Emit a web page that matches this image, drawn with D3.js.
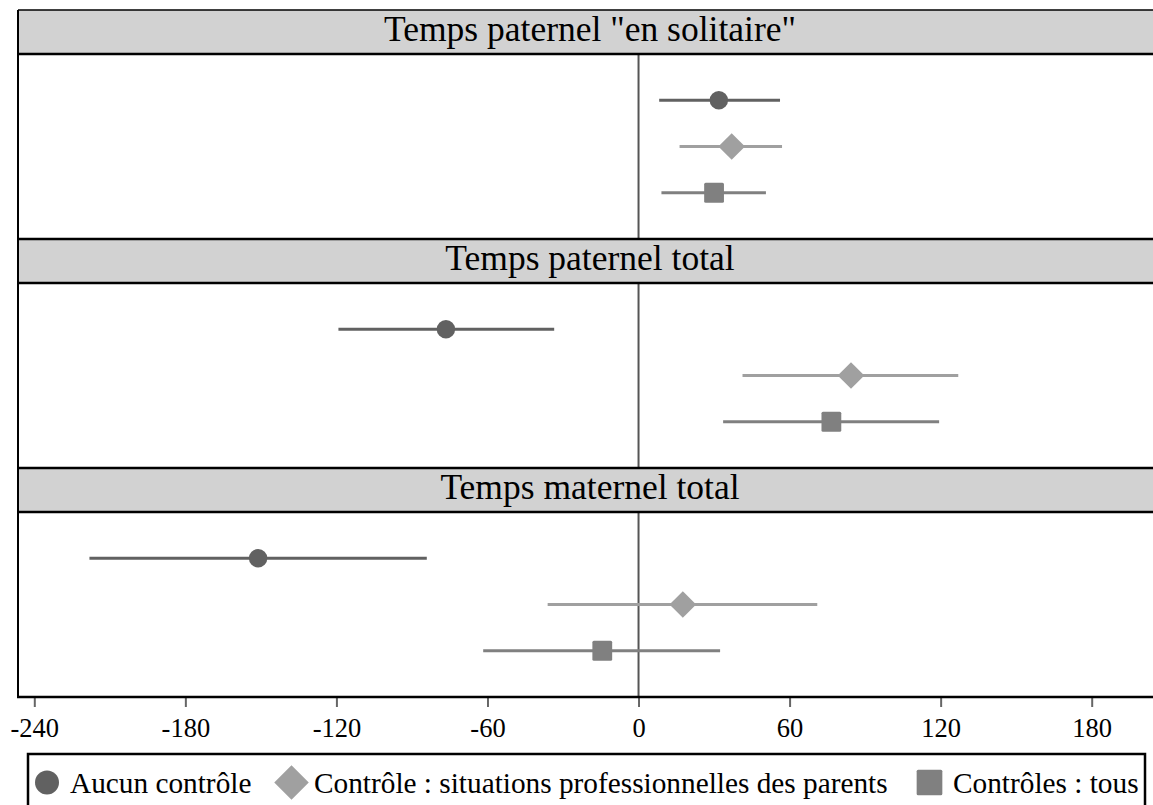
<!DOCTYPE html>
<html>
<head>
<meta charset="utf-8">
<script src="https://cdn.jsdelivr.net/npm/d3@7"></script>
<style>
  html, body { margin: 0; padding: 0; background: #fff; }
  svg { display: block; font-family: "Liberation Serif", "Times New Roman", serif; }
</style>
</head>
<body>
<svg id="chart" width="1153" height="805"></svg>
<script>
// ---- data ----
const panels = ['Temps paternel "en solitaire"', 'Temps paternel total', 'Temps maternel total'];
const seriesNames = ['Aucun contrôle', 'Contrôle : situations professionnelles des parents', 'Contrôles : tous'];
const seriesKeys = ['aucun', 'situations', 'tous'];

const aucunEst = [31.9, -76.5, -151.1];
const aucunLow = [8.2, -119.2, -218.1];
const aucunHigh = [56.2, -33.5, -84.1];

const situationsEst = [37.0, 84.4, 17.6];
const situationsLow = [16.3, 41.3, -36.1];
const situationsHigh = [57.0, 127.0, 71.0];

const tousEst = [30.0, 76.6, -14.4];
const tousLow = [9.1, 33.6, -61.7];
const tousHigh = [50.6, 119.4, 32.4];

const tickValues = [-240, -180, -120, -60, 0, 60, 120, 180];

// ---- build ----
const est = {aucun: aucunEst, situations: situationsEst, tous: tousEst};
const low = {aucun: aucunLow, situations: situationsLow, tous: tousLow};
const high = {aucun: aucunHigh, situations: situationsHigh, tous: tousHigh};
const colors = {aucun: '#616161', situations: '#a0a0a0', tous: '#808080'};
const shapes = {aucun: 'circle', situations: 'diamond', tous: 'square'};

const svg = d3.select('#chart');

const frameLeft = 18, frameRight = 1162;
const x = d3.scaleLinear().domain([-240, 180]).range([34.3, 1091.7]);

const panelTop = 10, panelH = 229, headerH = 44;

function drawMarker(g, shape, cx, cy, color, size) {
  if (shape === 'circle') {
    g.append('circle').attr('cx', cx).attr('cy', cy).attr('r', size * 0.5).attr('fill', color);
  } else if (shape === 'diamond') {
    const h = size * 0.72;
    g.append('path')
      .attr('d', `M${cx},${cy - h}L${cx + h},${cy}L${cx},${cy + h}L${cx - h},${cy}Z`)
      .attr('fill', color);
  } else {
    const s = size * 1.07;
    g.append('rect').attr('x', cx - s / 2).attr('y', cy - s / 2)
      .attr('width', s).attr('height', s).attr('rx', 1.5).attr('fill', color);
  }
}

panels.forEach((title, i) => {
  const top = panelTop + i * panelH;
  const g = svg.append('g');
  // header
  g.append('rect').attr('x', frameLeft).attr('y', top).attr('width', frameRight - frameLeft)
    .attr('height', headerH).attr('fill', '#d2d2d2');
  g.append('text').attr('x', (frameLeft + frameRight) / 2).attr('y', top + 30.5)
    .attr('text-anchor', 'middle').attr('font-size', 35.5).attr('fill', '#000').text(title);

  const cTop = top + headerH, cBot = top + panelH;
  const y = d3.scalePoint().domain(seriesKeys).range([cTop, cBot]).padding(1);

  // zero line
  g.append('line').attr('x1', x(0)).attr('x2', x(0)).attr('y1', cTop).attr('y2', cBot)
    .attr('stroke', '#555').attr('stroke-width', 2);

  seriesKeys.forEach(k => {
    const cy = y(k);
    g.append('line').attr('x1', x(low[k][i])).attr('x2', x(high[k][i]))
      .attr('y1', cy).attr('y2', cy).attr('stroke', colors[k]).attr('stroke-width', 3);
    drawMarker(g, shapes[k], x(est[k][i]), cy, colors[k], 18.5);
  });

  // header borders
  g.append('line').attr('x1', frameLeft).attr('x2', frameRight).attr('y1', top).attr('y2', top)
    .attr('stroke', '#000').attr('stroke-width', i === 0 ? 1.5 : 2.5);
  g.append('line').attr('x1', frameLeft).attr('x2', frameRight).attr('y1', top + headerH).attr('y2', top + headerH)
    .attr('stroke', '#000').attr('stroke-width', 2.5);
});

// left frame border
svg.append('line').attr('x1', frameLeft).attr('x2', frameLeft)
  .attr('y1', panelTop).attr('y2', panelTop + 3 * panelH)
  .attr('stroke', '#000').attr('stroke-width', 2);

// x axis
const axisY = panelTop + 3 * panelH;
const axisG = svg.append('g').attr('transform', `translate(0,${axisY})`)
  .call(d3.axisBottom(x).tickValues(tickValues).tickSize(10).tickPadding(11).tickSizeOuter(0)
    .tickFormat(d => String(d)));
axisG.attr('font-family', null).attr('font-size', null);
axisG.select('.domain').remove();
axisG.selectAll('.tick line').attr('stroke', '#666').attr('stroke-width', 2).attr('y1', 1);
axisG.selectAll('.tick text').attr('font-size', 26.5).attr('fill', '#000')
  .attr('font-family', '"Liberation Serif", serif').attr('dy', '0.71em');
svg.append('line').attr('x1', frameLeft - 1).attr('x2', frameRight).attr('y1', axisY).attr('y2', axisY)
  .attr('stroke', '#000').attr('stroke-width', 2.5);

// legend
const lg = svg.append('g');
lg.append('rect').attr('x', 28).attr('y', 754).attr('width', 1145 - 28).attr('height', 80)
  .attr('fill', '#fff').attr('stroke', '#000').attr('stroke-width', 2.5);
const legendMarkerX = [47, 291.5, 929.5];
const legendTextX = [70, 314, 953];
seriesKeys.forEach((k, j) => {
  drawMarker(lg, shapes[k], legendMarkerX[j], 782.5, colors[k], 24);
  lg.append('text').attr('x', legendTextX[j]).attr('y', 793).attr('font-size', 29.3)
    .attr('fill', '#000').text(seriesNames[j]);
});
</script>
</body>
</html>
